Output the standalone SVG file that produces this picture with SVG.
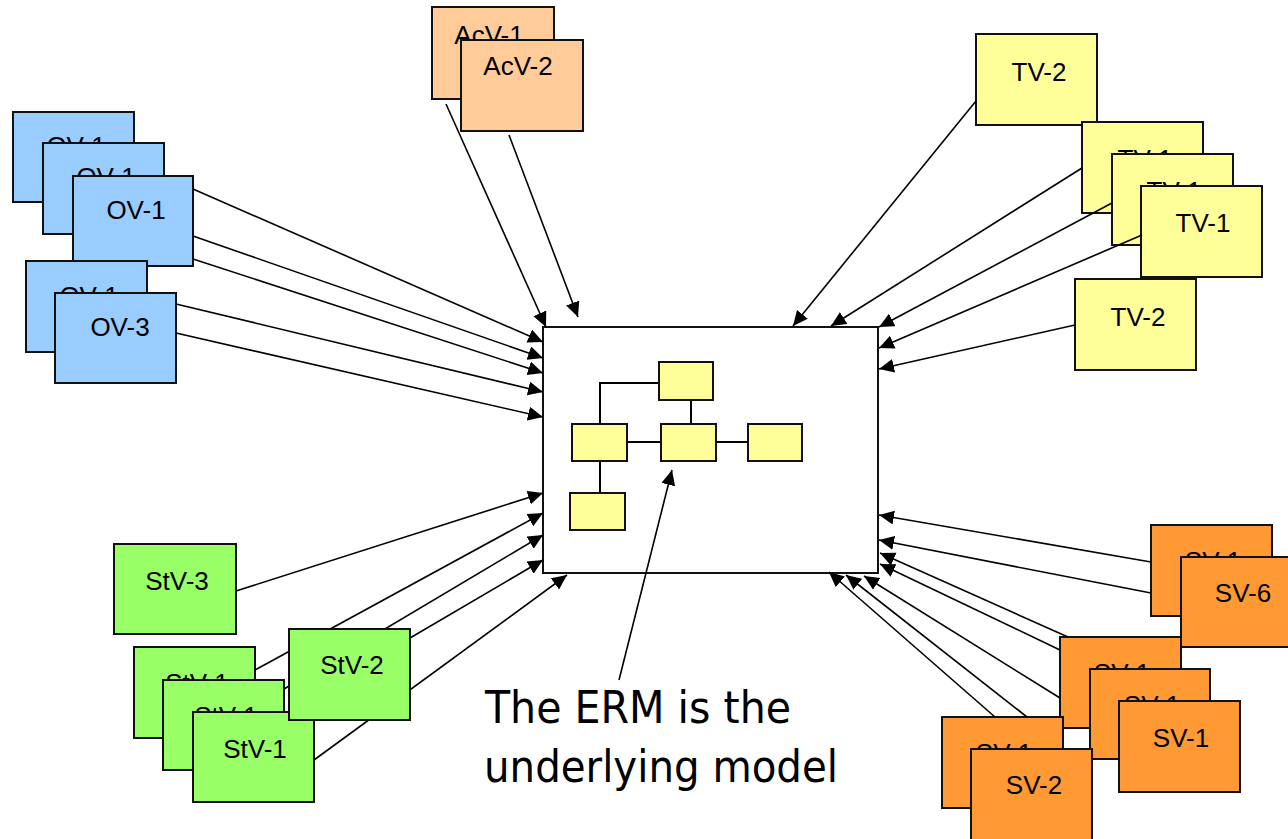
<svg xmlns="http://www.w3.org/2000/svg" width="1288" height="839" viewBox="0 0 1288 839">
  <style>
    .box { stroke: #111; stroke-width: 2; }
    .ov { fill: #99CCFF; }
    .acv { fill: #FFCC99; }
    .tv { fill: #FFFF99; }
    .stv { fill: #99FF66; }
    .sv { fill: #FF9933; }
    .lbl { font-family: "Liberation Sans", Arial, sans-serif; font-size: 26px; fill: #000; text-anchor: middle; }
    .conn line { stroke: #000; stroke-width: 1.6; marker-end: url(#arrow); }
    .ent { fill: #FFFF99; stroke: #111; stroke-width: 2; }
    .rel { stroke: #000; stroke-width: 2; fill: none; }
    .note { font-family: "DejaVu Sans", Verdana, sans-serif; font-size: 44px; fill: #000; }
  </style>
  <defs>
    <marker id="arrow" markerUnits="userSpaceOnUse" markerWidth="17" markerHeight="15" refX="15" refY="7" orient="auto">
      <path d="M0,0 L15,7 L0,14 z" fill="#000"/>
    </marker>
  </defs>
  <rect width="1288" height="839" fill="#fff"/>

  <!-- Central model: the ERM -->
  <g id="erm">
    <rect x="543" y="327" width="335" height="246" fill="#fff" stroke="#111" stroke-width="2"/>
    <polyline class="rel" points="659,383 600,383 600,424"/>
    <line class="rel" x1="691" y1="400" x2="691" y2="424"/>
    <line class="rel" x1="627" y1="442" x2="661" y2="442"/>
    <line class="rel" x1="716" y1="442" x2="748" y2="442"/>
    <line class="rel" x1="600" y1="461" x2="600" y2="493"/>
    <rect class="ent" x="659" y="362" width="54" height="38"/>
    <rect class="ent" x="572" y="424" width="55" height="37"/>
    <rect class="ent" x="661" y="424" width="55" height="37"/>
    <rect class="ent" x="748" y="424" width="54" height="37"/>
    <rect class="ent" x="570" y="493" width="55" height="37"/>
  </g>

  <!-- Operational views -->
  <g id="ov-1a"><rect class="box ov" x="13" y="112" width="121" height="90"/><text class="lbl" x="76" y="155">OV-1</text></g>
  <g id="ov-1b"><rect class="box ov" x="43" y="143" width="121" height="91"/><text class="lbl" x="106" y="186">OV-1</text></g>
  <g id="ov-1c"><rect class="box ov" x="73" y="176" width="120" height="90"/><text class="lbl" x="136" y="219">OV-1</text></g>
  <g id="ov-1d"><rect class="box ov" x="26" y="261" width="121" height="91"/><text class="lbl" x="89" y="305">OV-1</text></g>
  <g id="ov-3"><rect class="box ov" x="55" y="293" width="121" height="90"/><text class="lbl" x="120" y="336">OV-3</text></g>

  <!-- All views -->
  <g id="acv-1"><rect class="box acv" x="432" y="7" width="122" height="92"/><text class="lbl" x="489" y="44">AcV-1</text></g>
  <g id="acv-2"><rect class="box acv" x="461" y="40" width="122" height="91"/><text class="lbl" x="518" y="75">AcV-2</text></g>

  <!-- Technical views -->
  <g id="tv-2a"><rect class="box tv" x="976" y="34" width="121" height="91"/><text class="lbl" x="1039" y="81">TV-2</text></g>
  <g id="tv-1a"><rect class="box tv" x="1082" y="122" width="121" height="91"/><text class="lbl" x="1145" y="168">TV-1</text></g>
  <g id="tv-1b"><rect class="box tv" x="1112" y="154" width="121" height="91"/><text class="lbl" x="1174" y="200">TV-1</text></g>
  <g id="tv-1c"><rect class="box tv" x="1141" y="186" width="121" height="91"/><text class="lbl" x="1203" y="232">TV-1</text></g>
  <g id="tv-2b"><rect class="box tv" x="1075" y="279" width="121" height="91"/><text class="lbl" x="1138" y="326">TV-2</text></g>

  <!-- Strategic views (StV-2 is drawn over the connectors) -->
  <g id="stv-3"><rect class="box stv" x="114" y="544" width="122" height="90"/><text class="lbl" x="177" y="590">StV-3</text></g>
  <g id="stv-1a"><rect class="box stv" x="134" y="647" width="121" height="91"/><text class="lbl" x="197" y="692">StV-1</text></g>
  <g id="stv-1b"><rect class="box stv" x="163" y="680" width="121" height="90"/><text class="lbl" x="226" y="725">StV-1</text></g>
  <g id="stv-1c"><rect class="box stv" x="193" y="712" width="121" height="90"/><text class="lbl" x="255" y="758">StV-1</text></g>

  <!-- Systems views -->
  <g id="sv-1a"><rect class="box sv" x="1151" y="525" width="121" height="91"/><text class="lbl" x="1213" y="570">SV-1</text></g>
  <g id="sv-6"><rect class="box sv" x="1181" y="557" width="121" height="90"/><text class="lbl" x="1243" y="602">SV-6</text></g>
  <g id="sv-1b"><rect class="box sv" x="1060" y="637" width="121" height="91"/><text class="lbl" x="1122" y="682">SV-1</text></g>
  <g id="sv-1c"><rect class="box sv" x="1090" y="669" width="120" height="90"/><text class="lbl" x="1152" y="714">SV-1</text></g>
  <g id="sv-1d"><rect class="box sv" x="1119" y="701" width="121" height="91"/><text class="lbl" x="1181" y="747">SV-1</text></g>
  <g id="sv-1e"><rect class="box sv" x="942" y="717" width="121" height="91"/><text class="lbl" x="1004" y="762">SV-1</text></g>
  <g id="sv-2"><rect class="box sv" x="971" y="749" width="121" height="91"/><text class="lbl" x="1034" y="794">SV-2</text></g>

  <!-- Connectors into the model -->
  <g id="connectors" class="conn">
    <line x1="193" y1="189" x2="543" y2="342"/>
    <line x1="193" y1="236" x2="543" y2="358"/>
    <line x1="193" y1="259" x2="543" y2="373"/>
    <line x1="176" y1="304" x2="543" y2="392"/>
    <line x1="176" y1="333" x2="543" y2="417"/>

    <line x1="446" y1="104" x2="546" y2="327"/>
    <line x1="509" y1="135" x2="578" y2="317"/>

    <line x1="976" y1="101" x2="793" y2="326"/>
    <line x1="1082" y1="168" x2="831" y2="326"/>
    <line x1="1112" y1="203" x2="879" y2="327"/>
    <line x1="1142" y1="235" x2="879" y2="348"/>
    <line x1="1075" y1="325" x2="879" y2="369"/>

    <line x1="236" y1="591" x2="543" y2="493"/>
    <line x1="255" y1="670" x2="543" y2="513"/>
    <line x1="284" y1="689" x2="543" y2="535"/>
    <line x1="410" y1="638" x2="543" y2="560"/>
    <line x1="314" y1="760" x2="567" y2="575"/>

    <line x1="1151" y1="562" x2="879" y2="515"/>
    <line x1="1151" y1="593" x2="879" y2="540"/>
    <line x1="1068" y1="637" x2="880" y2="553"/>
    <line x1="1060" y1="650" x2="880" y2="564"/>
    <line x1="1060" y1="698" x2="864" y2="576"/>
    <line x1="1027" y1="717" x2="846" y2="575"/>
    <line x1="995" y1="717" x2="829" y2="572"/>

    <line x1="619" y1="680" x2="672" y2="470"/>
  </g>

  <g id="stv-2"><rect class="box stv" x="289" y="629" width="121" height="91"/><text class="lbl" x="352" y="674">StV-2</text></g>

  <!-- Caption -->
  <g id="caption">
    <text class="note" x="485" y="723" textLength="306" lengthAdjust="spacingAndGlyphs">The ERM is the</text>
    <text class="note" x="484" y="782" textLength="354" lengthAdjust="spacingAndGlyphs">underlying model</text>
  </g>
</svg>
